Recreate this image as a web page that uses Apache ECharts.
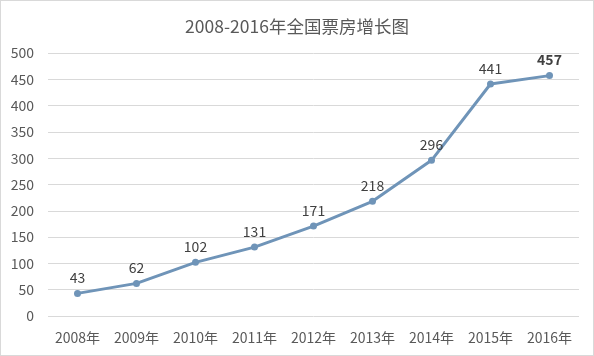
<!DOCTYPE html>
<html><head><meta charset="utf-8">
<script src="https://cdn.jsdelivr.net/npm/echarts@6/dist/echarts.min.js"></script>
<style>html,body{margin:0;padding:0;background:#fff}#c{width:594px;height:356px;box-sizing:border-box;border:1px solid #d9d9d9}</style>
</head><body><div id="c"></div>
<script>
const title = "2008-2016年全国票房增长图";
const categories = ["2008年","2009年","2010年","2011年","2012年","2013年","2014年","2015年","2016年"];
const values = [43, 62, 102, 131, 171, 218, 296, 441, 457];
const yTicks = {min: 0, max: 500, interval: 50};

const chart = echarts.init(document.getElementById('c'), null, {renderer: 'canvas'});
const font = "'Microsoft YaHei','Noto Sans CJK SC',sans-serif";
chart.setOption({
  animation: false,
  title: {text: title, left: 'center', top: 12, textStyle: {fontFamily: font, fontSize: 17.5, fontWeight: 'normal', color: '#595959'}},
  grid: {left: 47, right: 14, top: 52, bottom: 39},
  xAxis: {type: 'category', data: categories, boundaryGap: true,
    axisLine: {show: false}, axisTick: {show: false},
    axisLabel: {fontFamily: font, fontSize: 14, color: '#595959', margin: 15}},
  yAxis: {type: 'value', min: yTicks.min, max: yTicks.max, interval: yTicks.interval,
    axisLine: {show: false}, axisTick: {show: false},
    splitLine: {lineStyle: {color: '#d9d9d9', width: 1}},
    axisLabel: {fontFamily: font, fontSize: 14, color: '#595959', margin: 14}},
  series: [{type: 'line', data: values.map((v, i) => i === values.length - 1 ? {value: v, label: {fontWeight: 'bold', color: '#404040'}} : v),
    symbol: 'circle', symbolSize: 7,
    lineStyle: {color: '#6f94b8', width: 3}, itemStyle: {color: '#6f94b8'},
    label: {show: true, position: 'top', distance: 5, fontFamily: font, fontSize: 14, color: '#404040'}}]
});
</script></body></html>
